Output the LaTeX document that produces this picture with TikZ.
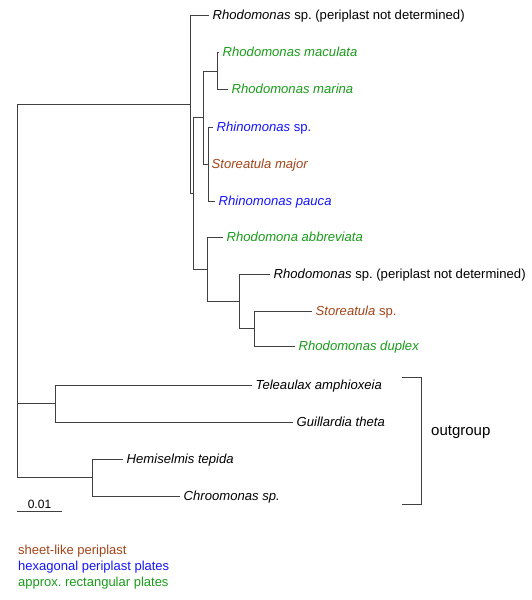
\documentclass[tikz,border=0pt]{standalone}
\usepackage{fontspec}
\setmainfont{Liberation Sans}
\usepackage{xcolor}
\usepackage{tikz}
\usetikzlibrary{positioning,calc}
\frenchspacing

\definecolor{sheetcol}{RGB}{163,68,25}
\definecolor{hexcol}{RGB}{20,20,255}
\definecolor{rectcol}{RGB}{25,155,25}

\begin{document}
\begin{tikzpicture}[
    x=1pt, y=-1pt,
    branch/.style={draw=black!75, line width=0.85pt},
    leaf/.style={anchor=west, inner xsep=3.5pt, inner ysep=0pt, text height=11pt, text depth=3pt, font=\fontsize{13.1}{15}\selectfont\itshape},
    legend/.style={anchor=west, inner sep=0pt, text height=11pt, text depth=3pt, font=\fontsize{13}{15}\selectfont}
  ]
    \useasboundingbox (0,0) rectangle (532,600);

    % --- INNER NODES ---
    \coordinate (root) at (17, 290);
    \coordinate (nA) at (190, 104);
    \coordinate (nB) at (193, 193);
    \coordinate (nC) at (203, 117);
    \coordinate (nE) at (217, 71);
    \coordinate (nF) at (208, 164);
    \coordinate (nD) at (207, 269);
    \coordinate (nG) at (239, 301);
    \coordinate (nH) at (254, 328.5);
    \coordinate (nI) at (55, 403);
    \coordinate (nJ) at (92, 477);

    % --- LEAVES ---
    \node[leaf] (rsp1) at (209, 15) {Rhodomonas \upshape sp. (periplast not determined)};
    \node[leaf, text=rectcol] (rmac) at (219, 52) {Rhodomonas maculata};
    \node[leaf, text=rectcol] (rmar) at (228, 89) {Rhodomonas marina};
    \node[leaf, text=hexcol] (rhsp) at (213, 127) {Rhinomonas \upshape sp.};
    \node[leaf, text=sheetcol] (smaj) at (208, 164) {Storeatula major};
    \node[leaf, text=hexcol] (rpau) at (215, 201) {Rhinomonas pauca};
    \node[leaf, text=rectcol] (rabb) at (223, 237) {Rhodomona abbreviata};
    \node[leaf] (rsp2) at (270, 274) {Rhodomonas \upshape sp. (periplast not determined)};
    \node[leaf, text=sheetcol] (stsp) at (312, 311) {Storeatula \upshape sp.};
    \node[leaf, text=rectcol] (rdup) at (295, 346) {Rhodomonas duplex};
    \node[leaf] (tamp) at (252, 385) {Teleaulax amphioxeia};
    \node[leaf] (gthe) at (293, 422) {Guillardia theta};
    \node[leaf] (htep) at (123, 459) {Hemiselmis tepida};
    \node[leaf] (chro) at (180, 496) {Chroomonas sp.};

    % --- BRANCHES ---
    \draw[branch] (root) |- (nA);
    \draw[branch] (root) |- (nI);
    \draw[branch] (root) |- (nJ);
    \draw[branch] (nA) |- (rsp1.west);
    \draw[branch] (nA) |- (nB);
    \draw[branch] (nB) |- (nC);
    \draw[branch] (nB) |- (nD);
    \draw[branch] (nC) |- (nE);
    \draw[branch] (nC) |- (nF);
    \draw[branch] (nE) |- (rmac.west);
    \draw[branch] (nE) |- (rmar.west);
    \draw[branch] (nF) |- (rhsp.west);
    \draw[branch] (nF) |- (rpau.west);
    \draw[branch] (nD) |- (rabb.west);
    \draw[branch] (nD) |- (nG);
    \draw[branch] (nG) |- (rsp2.west);
    \draw[branch] (nG) |- (nH);
    \draw[branch] (nH) |- (stsp.west);
    \draw[branch] (nH) |- (rdup.west);
    \draw[branch] (nI) |- (tamp.west);
    \draw[branch] (nI) |- (gthe.west);
    \draw[branch] (nJ) |- (htep.west);
    \draw[branch] (nJ) |- (chro.west);

    % --- OUTGROUP BRACKET ---
    \coordinate (brtop) at (402, 377);
    \coordinate (brbot) at (402, 504);
    \draw[branch] (brtop) -- ++(19,0) |- (brbot);
    \node[anchor=west, inner sep=0pt, font=\fontsize{15}{17}\selectfont] (outg) at (431, 432) {outgroup};

    % --- SCALE BAR ---
    \coordinate (sb0) at (17, 511);
    \coordinate (sb1) at (62, 511);
    \draw[branch] (sb0) -- node[above, inner sep=2pt, font=\fontsize{12}{14}\selectfont] (sblab) {0.01} (sb1);

    % --- LEGEND ---
    \node[legend, text=sheetcol] (lsheet) at (18, 550) {sheet-like periplast};
    \node[legend, text=hexcol] (lhex) at (18, 566) {hexagonal periplast plates};
    \node[legend, text=rectcol] (lrect) at (18, 582) {approx. rectangular plates};
\end{tikzpicture}
\end{document}
